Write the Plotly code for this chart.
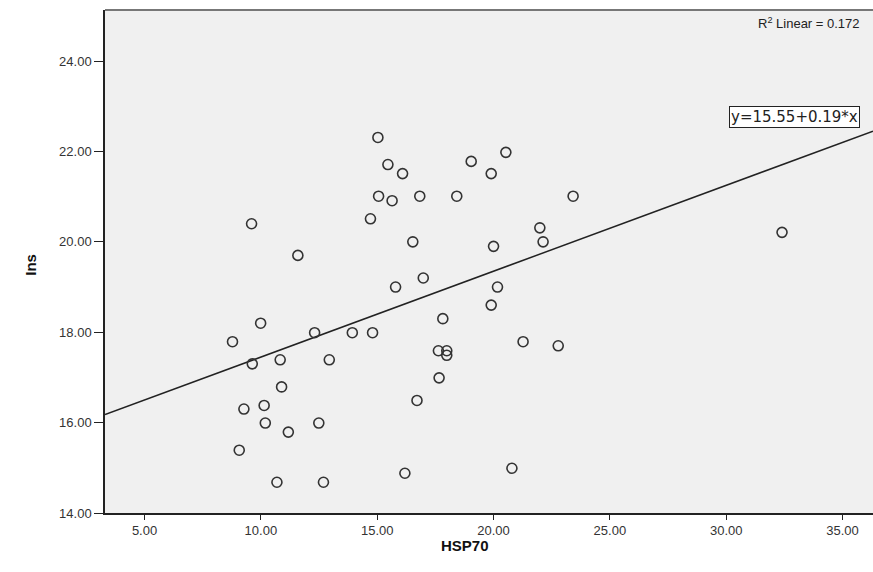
import plotly.graph_objects as go

# Data (HSP70 vs Ins)
hsp70 = [15.03, 15.46, 16.09, 15.06, 15.64, 14.71, 9.60, 11.59, 15.79,
         20.53, 19.04, 19.90, 16.83, 18.42, 23.42, 16.53, 21.99, 22.13, 20.00,
         16.98, 20.17, 19.90, 17.82,
         9.99, 8.78, 12.31, 13.93, 14.80, 9.63, 10.83, 12.94, 10.89, 9.27,
         10.14, 10.19, 12.49, 11.18, 9.07, 10.69, 12.69, 16.19,
         17.63, 17.99, 17.99, 21.27, 22.78, 17.66, 16.71, 20.79,
         32.40]
ins = [22.31, 21.71, 21.51, 21.01, 20.91, 20.51, 20.40, 19.70, 19.00,
       21.98, 21.78, 21.51, 21.01, 21.01, 21.01, 20.00, 20.31, 20.00, 19.90,
       19.20, 19.00, 18.60, 18.30,
       18.20, 17.79, 17.99, 17.99, 17.99, 17.30, 17.39, 17.39, 16.79, 16.30,
       16.38, 15.99, 15.99, 15.79, 15.39, 14.68, 14.68, 14.88,
       17.59, 17.59, 17.49, 17.79, 17.70, 16.99, 16.49, 14.99,
       20.21]

intercept = 15.55
slope = 0.19
r2 = 0.172

x_range = [3.30, 36.31]
y_range = [14.0, 25.13]
x_ticks = [5, 10, 15, 20, 25, 30, 35]
y_ticks = [14, 16, 18, 20, 22, 24]

line_x = x_range
line_y = [intercept + slope * v for v in line_x]

fig = go.Figure()
fig.add_trace(go.Scatter(
    x=line_x, y=line_y, mode="lines",
    line=dict(color="#222222", width=1.5), hoverinfo="skip", showlegend=False))
fig.add_trace(go.Scatter(
    x=hsp70, y=ins, mode="markers",
    marker=dict(symbol="circle-open", size=10, color="#333333",
                line=dict(width=1.6, color="#333333")),
    showlegend=False))

font_tick = dict(family="Liberation Sans, Arial, sans-serif", size=13, color="#333333")

fig.update_layout(
    width=873, height=572,
    margin=dict(l=105, r=0, t=10, b=59),
    paper_bgcolor="white", plot_bgcolor="#f0f0f0",
    font=dict(family="Liberation Sans, Arial, sans-serif"),
    xaxis=dict(range=x_range, tickvals=x_ticks, tickformat=".2f",
               ticks="outside", ticklen=5, tickcolor="#222", tickwidth=1,
               showgrid=False, zeroline=False, showline=True,
               linecolor="#222", linewidth=1.5, tickfont=font_tick),
    yaxis=dict(range=y_range, tickvals=y_ticks, tickformat=".2f",
               ticks="outside", ticklen=9, tickcolor="#222", tickwidth=1,
               showgrid=False, zeroline=False, showline=True,
               linecolor="#222", linewidth=1.5, tickfont=font_tick),
    shapes=[dict(type="line", xref="paper", yref="paper", x0=0, x1=1, y0=1, y1=1,
                 line=dict(color="#777777", width=2))],
    annotations=[
        dict(text="R<sup>2</sup> Linear = %.3f" % r2, xref="paper", yref="paper",
             x=0.986, y=0.974, xanchor="right", yanchor="middle", showarrow=False,
             font=dict(size=13, color="#222")),
        dict(text="y=%.2f+%.2f*x" % (intercept, slope), xref="x", yref="y",
             x=30.1, y=22.76, xanchor="left", yanchor="middle", showarrow=False,
             bordercolor="#222", borderwidth=1, bgcolor="white", borderpad=1,
             font=dict(family="DejaVu Sans, sans-serif", size=15, color="#222")),
        dict(text="<b>HSP70</b>", xref="paper", yref="paper", x=0.469, y=-0.064,
             xanchor="center", yanchor="middle", showarrow=False,
             font=dict(size=15, color="#111")),
        dict(text="<b>Ins</b>", xref="paper", yref="paper", x=-0.098, y=0.493,
             xanchor="center", yanchor="middle", showarrow=False, textangle=-90,
             font=dict(size=15, color="#111")),
    ],
)

fig.write_html("out.html",
               config={"displayModeBar": False},
               post_script="document.body.style.margin='0';document.body.style.overflow='hidden';")
